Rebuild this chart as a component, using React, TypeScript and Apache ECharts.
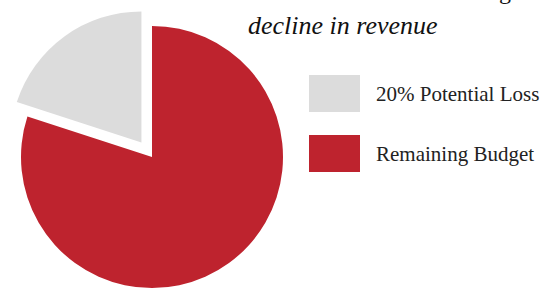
import React, { useEffect, useRef } from "react";
import * as echarts from "echarts";

const categories = ["Remaining Budget", "20% Potential Loss"];
const values = [80, 20];
const legendOrder = ["20% Potential Loss", "Remaining Budget"];
const titleLine1 = "Potential loss from a 20% nationwide funding";
const titleLine2 = "decline in revenue";

const RED = "#BE232E";
const GRAY = "#DCDCDC";

export default function App() {
  const ref = useRef<HTMLDivElement>(null);
  useEffect(() => {
    document.body.style.margin = "0";
    if (!ref.current) return;
    const chart = echarts.init(ref.current, null, { renderer: "svg" });
    const colors = [RED, GRAY];
    chart.setOption({
      animation: false,
      backgroundColor: "#ffffff",
      legend: {
        data: legendOrder,
        orient: "vertical",
        left: 309,
        top: 75,
        padding: 0,
        itemWidth: 51,
        itemHeight: 37,
        itemGap: 23,
        icon: "rect",
        selectedMode: false,
        textStyle: {
          fontFamily: "Liberation Serif",
          fontSize: 21,
          color: "#222222",
          padding: [0, 0, 0, 11],
        },
      },
      graphic: [
        {
          type: "text",
          right: 38,
          top: -21,
          style: {
            text: titleLine1,
            font: "24px 'Liberation Serif'",
            fill: "#111111",
          },
        },
        {
          type: "text",
          left: 248,
          top: 12,
          style: {
            text: titleLine2,
            font: "italic 26px 'Liberation Serif'",
            fill: "#111111",
          },
        },
      ],
      series: [
        {
          type: "pie",
          center: [152, 157],
          radius: 131,
          startAngle: 90,
          clockwise: true,
          selectedMode: "single",
          selectedOffset: 18,
          label: { show: false },
          labelLine: { show: false },
          emphasis: { disabled: true },
          data: categories.map((name, i) => ({
            name,
            value: values[i],
            selected: i === 1,
            itemStyle: { color: colors[i] },
            select: { itemStyle: { color: colors[i] } },
          })),
        },
      ],
    });
    return () => chart.dispose();
  }, []);
  return <div ref={ref} style={{ width: 549, height: 289 }} />;
}
